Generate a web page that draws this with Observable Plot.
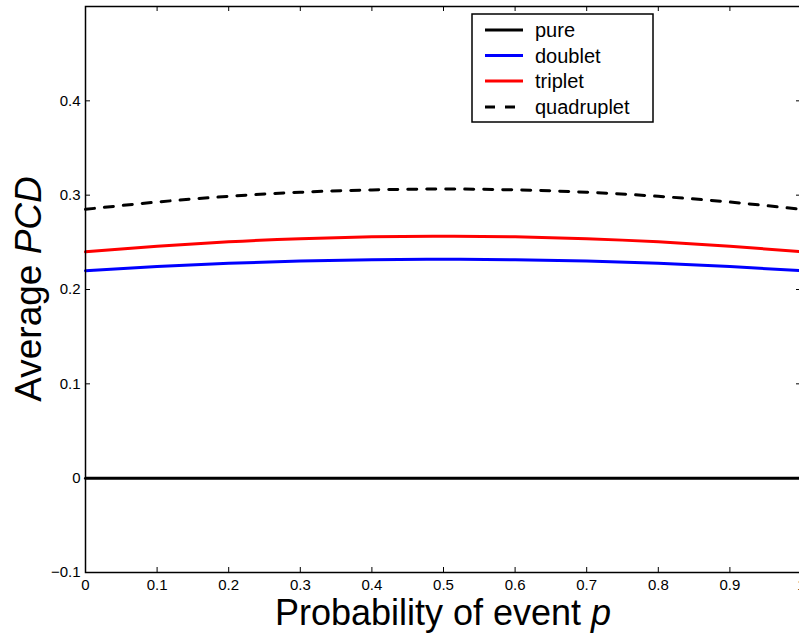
<!DOCTYPE html>
<html>
<head>
<meta charset="utf-8">
<script src="https://cdn.jsdelivr.net/npm/d3@7"></script>
<script src="https://cdn.jsdelivr.net/npm/@observablehq/plot@0.6"></script>
<style>
  html, body { margin: 0; padding: 0; background: #fff; }
  #chart svg { display: block; }
</style>
</head>
<body>
<div id="chart"></div>
<script>
// ---- data ----
const p = [0, 0.1, 0.2, 0.3, 0.4, 0.5, 0.6, 0.7, 0.8, 0.9, 1];
const pure = [0, 0, 0, 0, 0, 0, 0, 0, 0, 0, 0];
const doublet = [0.220, 0.2243, 0.2277, 0.2301, 0.2315, 0.2320, 0.2315, 0.2301, 0.2277, 0.2243, 0.220];
const triplet = [0.240, 0.2459, 0.2506, 0.2539, 0.2558, 0.2565, 0.2558, 0.2539, 0.2506, 0.2459, 0.240];
const quadruplet = [0.285, 0.2927, 0.2988, 0.3031, 0.3056, 0.3065, 0.3056, 0.3031, 0.2988, 0.2927, 0.285];

const seriesNames = ["pure", "doublet", "triplet", "quadruplet"];
const seriesColors = ["#000000", "#0000ff", "#ff0000", "#000000"];
const seriesDash = [null, null, null, "9,10"];

const xTicks = [0, 0.1, 0.2, 0.3, 0.4, 0.5, 0.6, 0.7, 0.8, 0.9, 1];
const xTickLabels = ["0", "0.1", "0.2", "0.3", "0.4", "0.5", "0.6", "0.7", "0.8", "0.9", "1"];
const yTicks = [-0.1, 0, 0.1, 0.2, 0.3, 0.4];
const yTickLabels = ["\u22120.1", "0", "0.1", "0.2", "0.3", "0.4"];

const xTitle = "Probability of event ";
const xTitleItalic = "p";
const yTitle = "Average ";
const yTitleItalic = "PCD";

// ---- build table ----
const values = [pure, doublet, triplet, quadruplet];
const rows = [];
seriesNames.forEach((s, i) => p.forEach((pp, j) => rows.push({series: s, p: pp, v: values[i][j]})));

const W = 799, H = 635;
const mt = 6, mb = 63, ml = 85, mr = -2;
const plotH = H - mt - mb;
const plotW = W - ml - mr;
const tickLen = 5;
const font = "'Liberation Sans', Arial, Helvetica, sans-serif";

const lineMarks = seriesNames.map((s, i) =>
  Plot.line(rows.filter(d => d.series === s), {
    x: "p", y: "v", stroke: seriesColors[i], strokeWidth: 3,
    strokeDasharray: seriesDash[i] || undefined, curve: "natural"
  })
);

const chart = Plot.plot({
  width: W, height: H,
  marginTop: mt, marginBottom: mb, marginLeft: ml, marginRight: mr,
  style: {fontFamily: font, fontSize: "15px", color: "#000", background: "#fff", overflow: "hidden"},
  x: {domain: [0, 1], axis: null},
  y: {domain: [-0.1, 0.5], axis: null},
  marks: [
    ...lineMarks,
    Plot.frame({stroke: "#000", strokeWidth: 1.5}),
    // inward ticks: bottom, top, left, right
    Plot.ruleX(xTicks, {x: d => d, insetTop: plotH - tickLen, stroke: "#000", strokeWidth: 1}),
    Plot.ruleX(xTicks, {x: d => d, insetBottom: plotH - tickLen, stroke: "#000", strokeWidth: 1}),
    Plot.ruleY(yTicks, {y: d => d, insetRight: plotW - tickLen, stroke: "#000", strokeWidth: 1}),
    Plot.ruleY(yTicks, {y: d => d, insetLeft: plotW - tickLen, stroke: "#000", strokeWidth: 1}),
    // tick labels
    Plot.text(xTicks, {x: d => d, frameAnchor: "bottom", lineAnchor: "top", dy: 7,
      text: (d, i) => xTickLabels[i], fontSize: 15, fill: "#000"}),
    Plot.text(yTicks, {y: d => d, frameAnchor: "left", textAnchor: "end", dx: -5,
      text: (d, i) => yTickLabels[i], fontSize: 15, fill: "#000"})
  ]
});

document.getElementById("chart").appendChild(chart);

const svg = d3.select(chart);

// ---- axis titles with italic parts ----
const xt = svg.append("text")
  .attr("x", ml + (plotW) / 2)
  .attr("y", 625)
  .attr("text-anchor", "middle")
  .style("font-size", "36px")
  .style("font-family", font)
  .attr("fill", "#000");
xt.append("tspan").text(xTitle);
xt.append("tspan").attr("font-style", "italic").text(xTitleItalic);

const yt = svg.append("text")
  .attr("transform", `translate(41,${mt + plotH / 2}) rotate(-90)`)
  .attr("text-anchor", "middle")
  .style("font-size", "37px")
  .style("font-family", font)
  .attr("fill", "#000");
yt.append("tspan").text(yTitle);
yt.append("tspan").attr("font-style", "italic").text(yTitleItalic);

// ---- legend ----
const lg = svg.append("g").attr("font-family", font);
lg.append("rect")
  .attr("x", 472).attr("y", 14).attr("width", 181).attr("height", 108)
  .attr("fill", "#fff").attr("stroke", "#000").attr("stroke-width", 1.5);
const rowY = [30, 55.5, 81, 107];
seriesNames.forEach((s, i) => {
  lg.append("line")
    .attr("x1", 485).attr("x2", 523).attr("y1", rowY[i]).attr("y2", rowY[i])
    .attr("stroke", seriesColors[i]).attr("stroke-width", 3)
    .attr("stroke-dasharray", seriesDash[i] ? "10,10" : null);
  lg.append("text")
    .attr("x", 535).attr("y", rowY[i]).attr("dy", "0.35em")
    .attr("text-anchor", "start")
    .style("font-size", "20px").attr("fill", "#000")
    .text(s);
});
</script>
</body>
</html>
